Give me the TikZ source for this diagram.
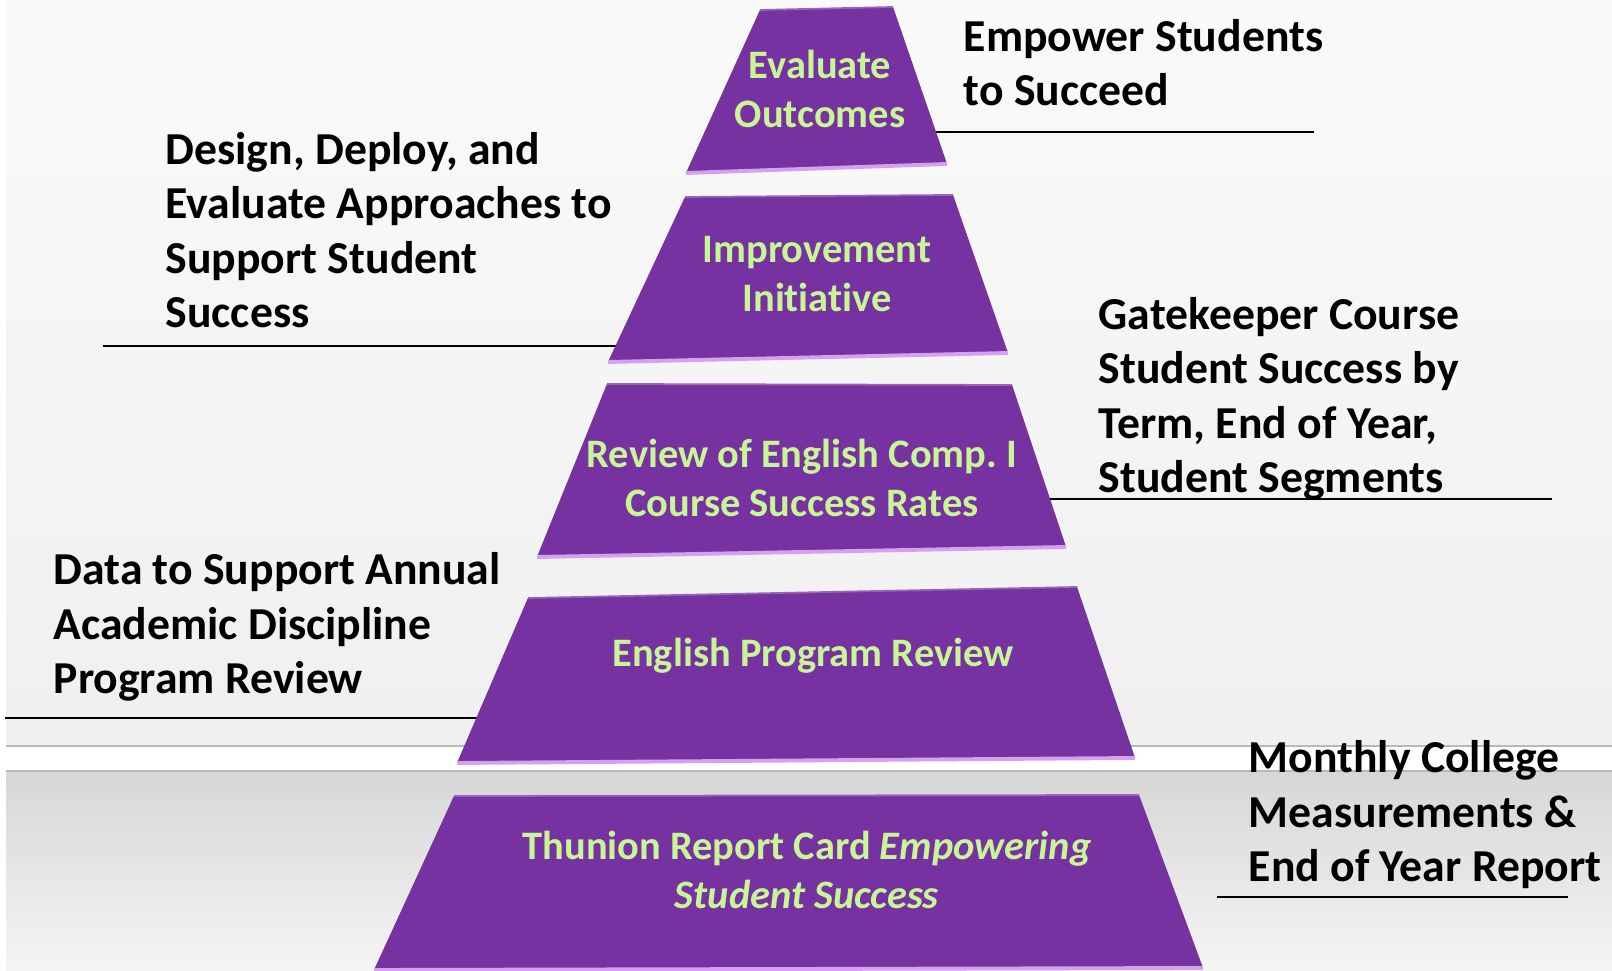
\documentclass[tikz,border=0pt]{standalone}
\usepackage{fontspec}
\setmainfont{Carlito}[Ligatures=NoCommon]
\frenchspacing
\usetikzlibrary{positioning, calc}

\definecolor{pyrpurple}{RGB}{117,50,160}
\definecolor{pyrgreen}{RGB}{200,245,150}
\definecolor{pyrrim}{RGB}{214,160,240}

\pgfdeclarelayer{back}
\pgfdeclarelayer{rules}
\pgfsetlayers{back,rules,main}

\tikzset{
  level/.style={fill=pyrpurple},
  levelshadow/.style={fill=black, opacity=0.07},
  rim/.style={draw=pyrrim, line width=1.1pt},
  toprim/.style={draw=pyrpurple!75!white, line width=0.5pt},
  lvltext/.style={text=pyrgreen, font=\fontsize{11.5}{14.2}\selectfont\bfseries, align=center, inner sep=0pt, anchor=base},
  note/.style={font=\fontsize{13}{15.5}\selectfont\bfseries, align=left, inner sep=0pt, anchor=base west},
  rule/.style={draw=black, line width=0.7pt},
}

\begin{document}
\begin{tikzpicture}[x=0.01cm, y=-0.01cm]
  \useasboundingbox (0,0) rectangle (1612,971);

  % Background bands
  \begin{pgfonlayer}{back}
    \fill[white] (0,0) rectangle (1612,971);
    \shade[top color=white!98!black, bottom color=white!94!black] (6,0) rectangle (1612,746);
    \shade[top color=white!84!black, bottom color=white!96!black] (6,771) rectangle (1612,971);
    \draw[gray!55, line width=0.4pt] (6,746) -- (1612,746);
    \draw[gray!55, line width=0.4pt] (6,771) -- (1612,771);
  \end{pgfonlayer}

  % Pyramid levels, top to bottom
  \foreach \n/\ax/\ay/\bx/\by/\cx/\cy/\dx/\dy in {
      L1/760/10/893/7/947/164/686/173,
      L2/685/197/953/195/1008/353/608/362,
      L3/607/384/1012/385/1066/547/537/557,
      L4/528/598/1077/587/1135/758/457/763,
      L5/454/796/1139/795/1203/968/374/970}{
    \coordinate (\n-tl) at (\ax,\ay);
    \coordinate (\n-tr) at (\bx,\by);
    \coordinate (\n-br) at (\cx,\cy);
    \coordinate (\n-bl) at (\dx,\dy);
    % soft shadow under the slab
    \foreach \k in {2,4,6,8}
      \fill[levelshadow, shift={(1,\k)}] (\n-tl) -- (\n-tr) -- (\n-br) -- (\n-bl) -- cycle;
    \fill[level] (\n-tl) -- (\n-tr) -- (\n-br) -- (\n-bl) -- cycle;
    \draw[toprim] (\n-tl) -- (\n-tr);
    \draw[rim] (\n-bl) -- (\n-br);
  }

  % Level labels
  \node[lvltext] (lv1) at (820,128) {Evaluate\\Outcomes};
  \node[lvltext] (lv2) at (817,312) {Improvement\\Initiative};
  \node[lvltext] (lv3) at (802,517) {Review of English Comp. I\\Course Success Rates};
  \node[lvltext] (lv4) at (813,667) {English Program Review};
  \node[lvltext] (lv5) at (807,909) {Thunion Report Card \textit{Empowering}\\\textit{Student Success}};

  % Side notes
  \node[note] (n1) at (963,106) {Empower Students\\to Succeed};
  \node[note] (n2) at (165,328) {Design, Deploy, and\\Evaluate Approaches to\\Support Student\\Success};
  \node[note] (n3) at (1098,493) {Gatekeeper Course\\Student Success by\\Term, End of Year,\\Student Segments};
  \node[note] (n4) at (53,694) {Data to Support Annual\\Academic Discipline\\Program Review};
  \node[note] (n5) at (1248,882) {Monthly College\\Measurements \&\\End of Year Report};

  % Underlines running into the levels
  \begin{pgfonlayer}{rules}
    \coordinate (r1) at (1314,132);
    \draw[rule] (r1 -| lv1) -- (r1);
    \coordinate (r2) at (103,346);
    \draw[rule] (r2) -- (r2 -| lv2);
    \coordinate (r3) at (1552,499);
    \draw[rule] (r3 -| lv3) -- (r3);
    \coordinate (r4) at (5,718);
    \draw[rule] (r4) -- (r4 -| lv4);
    \coordinate (r5a) at (1217,897);
    \coordinate (r5b) at (1568,897);
    \draw[rule] (r5a) -- (r5b);
  \end{pgfonlayer}
\end{tikzpicture}
\end{document}
